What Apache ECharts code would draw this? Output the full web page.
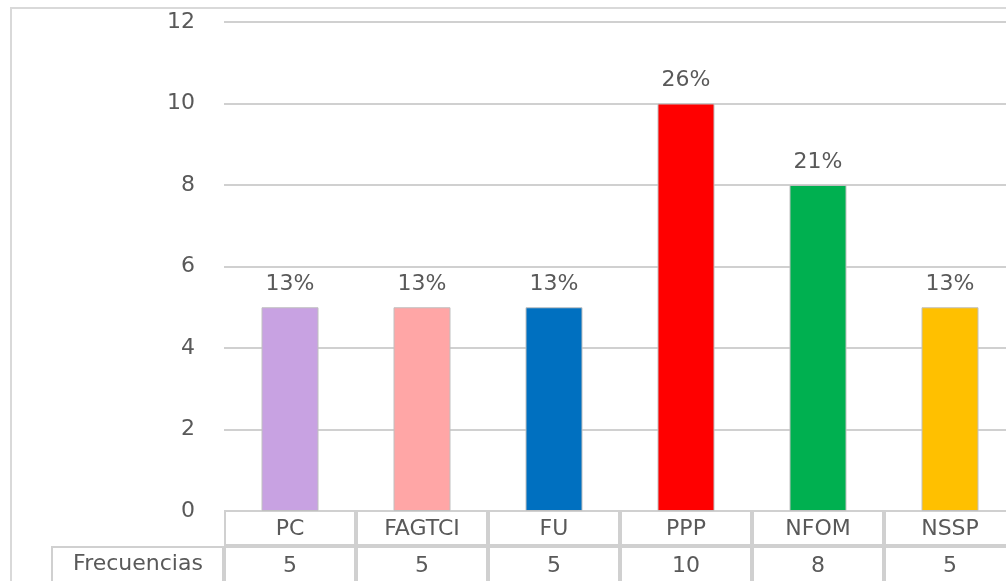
<!DOCTYPE html>
<html>
<head>
<meta charset="utf-8">
<script src="https://cdn.jsdelivr.net/npm/echarts@6/dist/echarts.min.js"></script>
<style>
html,body{margin:0;padding:0;background:#fff;overflow:hidden;width:1006px;height:581px;}
#c{width:1040px;height:581px;}
</style>
</head>
<body>
<div id="c"></div>
<script>
const categories = ['PC', 'FAGTCI', 'FU', 'PPP', 'NFOM', 'NSSP'];
const frecuencias = [5, 5, 5, 10, 8, 5];
const percentLabels = ['13%', '13%', '13%', '26%', '21%', '13%'];
const barColors = ['#C8A2E2', '#FFA6A6', '#0070C0', '#FF0000', '#00B050', '#FFC000'];
const rowTitle = 'Frecuencias';
const yTicks = { min: 0, max: 12, interval: 2 };

const FONT = 'DejaVu Sans';
const TXT = '#595959';
const LINE = '#d0d0d0';
const FS = 22;

const chart = echarts.init(document.getElementById('c'));
const option = {
  animation: false,
  grid: { left: 224, right: 24, top: 22, bottom: 70 },
  xAxis: [{
    type: 'category',
    data: categories,
    axisLine: { show: false },
    axisTick: { show: false },
    axisLabel: { color: TXT, fontFamily: FONT, fontSize: FS, margin: 7, interval: 0 }
  }, {
    type: 'category',
    data: frecuencias.map(String),
    position: 'bottom',
    offset: 36,
    axisLine: { show: false },
    axisTick: { show: false },
    axisLabel: { color: TXT, fontFamily: FONT, fontSize: FS, margin: 8, interval: 0 }
  }],
  yAxis: {
    type: 'value',
    min: yTicks.min, max: yTicks.max, interval: yTicks.interval,
    axisLine: { show: false },
    axisTick: { show: false },
    axisLabel: { color: TXT, fontFamily: FONT, fontSize: FS, margin: 29 },
    splitLine: { lineStyle: { color: LINE, width: 2 } }
  },
  series: [{
    type: 'bar',
    barWidth: 57,
    data: frecuencias.map((v, i) => ({
      value: v,
      itemStyle: { color: barColors[i], borderColor: '#c0c0c0', borderWidth: 1 }
    })),
    label: {
      show: true, position: 'top', distance: 12,
      color: TXT, fontFamily: FONT, fontSize: FS,
      formatter: p => percentLabels[p.dataIndex]
    }
  }]
};
chart.setOption(option);

// table borders, derived from the axis scales
const y0 = chart.convertToPixel({ yAxisIndex: 0 }, 0);
const c0 = chart.convertToPixel({ xAxisIndex: 0 }, 0);
const c1 = chart.convertToPixel({ xAxisIndex: 0 }, 1);
const band = c1 - c0;
const rowH = 35;
const g = [];
const cellStyle = { fill: 'none', stroke: LINE, lineWidth: 2 };
categories.forEach((c, i) => {
  const cx = chart.convertToPixel({ xAxisIndex: 0 }, i);
  const x = cx - band / 2 + 1;
  g.push({ type: 'rect', shape: { x: x, y: y0, width: band - 2, height: rowH - 1 }, style: cellStyle, silent: true });
  g.push({ type: 'rect', shape: { x: x, y: y0 + rowH + 1, width: band - 2, height: rowH }, style: cellStyle, silent: true });
});
const left0 = c0 - band / 2;
g.push({ type: 'rect', shape: { x: 52, y: y0 + rowH + 1, width: left0 - 1 - 52, height: rowH }, style: cellStyle, silent: true });
g.push({ type: 'text', x: (52 + left0) / 2, y: y0 + rowH + 1 + rowH / 2,
  style: { text: rowTitle, fill: TXT, font: FS + 'px "' + FONT + '"', align: 'center', verticalAlign: 'middle' }, silent: true });
// outer chart border
g.push({ type: 'polyline', shape: { points: [[11, 600], [11, 8], [1040, 8]] }, style: { stroke: '#d9d9d9', lineWidth: 2, fill: 'none' }, silent: true });
chart.setOption({ graphic: g });
</script>
</body>
</html>
